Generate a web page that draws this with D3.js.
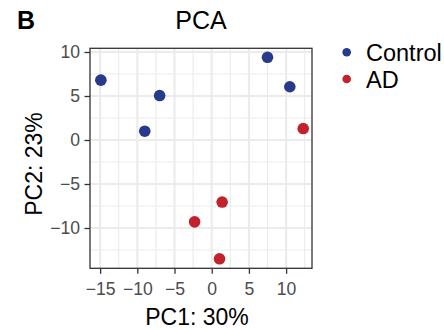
<!DOCTYPE html>
<html>
<head>
<meta charset="utf-8">
<script src="https://cdn.jsdelivr.net/npm/d3@7/dist/d3.min.js"></script>
<style>
  html, body { margin: 0; padding: 0; background: #fff; }
  svg { display: block; font-family: "Liberation Sans", Arial, sans-serif; }
</style>
</head>
<body>
<svg id="chart" width="444" height="330"></svg>
<script>
// ---- data ----
const groups = ["Control", "AD"];
const groupColors = ["#283A8C", "#C1222C"];
const controlPC1 = [-14.9, -7.0, -9.0, 7.5, 10.5];
const controlPC2 = [6.8, 5.05, 1.0, 9.4, 6.05];
const adPC1 = [12.3, -2.3, 1.4, 1.05];
const adPC2 = [1.3, -9.3, -7.05, -13.5];
const xTicks = [-15, -10, -5, 0, 5, 10];
const yTicks = [-10, -5, 0, 5, 10];
const xMinor = [-12.5, -7.5, -2.5, 2.5, 7.5, 12.5];
const yMinor = [-12.5, -7.5, -2.5, 2.5, 7.5];
const titleText = "PCA";
const panelLabel = "B";
const xTitle = "PC1: 30%";
const yTitle = "PC2: 23%";

const points = [];
controlPC1.forEach((v, i) => points.push({ g: 0, x: v, y: controlPC2[i] }));
adPC1.forEach((v, i) => points.push({ g: 1, x: v, y: adPC2[i] }));

// ---- layout ----
const svg = d3.select("#chart");
const L = 90, R = 312, T = 48.3, B = 268.3;
const x = d3.scaleLinear().domain([-16.36, 13.48]).range([L, R]);
const y = d3.scaleLinear().domain([-14.58, 10.42]).range([B, T]);

svg.append("rect").attr("x", L).attr("y", T).attr("width", R - L).attr("height", B - T).attr("fill", "#fff");

const grid = svg.append("g");
grid.selectAll(".xm").data(xMinor).enter().append("line")
  .attr("x1", d => x(d)).attr("x2", d => x(d)).attr("y1", T).attr("y2", B)
  .attr("stroke", "#EBEBEB").attr("stroke-width", 1.1);
grid.selectAll(".ym").data(yMinor).enter().append("line")
  .attr("y1", d => y(d)).attr("y2", d => y(d)).attr("x1", L).attr("x2", R)
  .attr("stroke", "#EBEBEB").attr("stroke-width", 1.1);
grid.selectAll(".xM").data(xTicks).enter().append("line")
  .attr("x1", d => x(d)).attr("x2", d => x(d)).attr("y1", T).attr("y2", B)
  .attr("stroke", "#EBEBEB").attr("stroke-width", 2.1);
grid.selectAll(".yM").data(yTicks).enter().append("line")
  .attr("y1", d => y(d)).attr("y2", d => y(d)).attr("x1", L).attr("x2", R)
  .attr("stroke", "#EBEBEB").attr("stroke-width", 2.1);

svg.append("clipPath").attr("id", "clip").append("rect")
  .attr("x", L).attr("y", T).attr("width", R - L).attr("height", B - T);
svg.append("g").attr("clip-path", "url(#clip)")
  .selectAll("circle").data(points).enter().append("circle")
  .attr("cx", d => x(d.x)).attr("cy", d => y(d.y)).attr("r", 5.8)
  .attr("fill", d => groupColors[d.g]);

svg.append("rect").attr("x", L).attr("y", T).attr("width", R - L).attr("height", B - T)
  .attr("fill", "none").attr("stroke", "#333333").attr("stroke-width", 1.3);

const xAxis = svg.append("g").attr("transform", `translate(0,${B})`)
  .call(d3.axisBottom(x).tickValues(xTicks).tickSize(5.5).tickPadding(4.5).tickFormat(d3.format("d")));
const yAxis = svg.append("g").attr("transform", `translate(${L},0)`)
  .call(d3.axisLeft(y).tickValues(yTicks).tickSize(5.5).tickPadding(4.5).tickFormat(d3.format("d")));
[xAxis, yAxis].forEach(a => {
  a.select(".domain").remove();
  a.selectAll(".tick line").attr("stroke", "#333333").attr("stroke-width", 1.3);
  a.selectAll(".tick text").attr("fill", "#4D4D4D").style("font-size", "17.6px")
    .style("font-family", "'Liberation Sans', Arial, sans-serif");
});
xAxis.selectAll(".tick text").attr("dy", "0.95em");

svg.append("text").attr("x", 17).attr("y", 29).text(panelLabel)
  .style("font-size", "25px").style("font-weight", "bold").attr("fill", "#000");
svg.append("text").attr("x", 201).attr("y", 29).attr("text-anchor", "middle").text(titleText)
  .style("font-size", "25px").attr("fill", "#000");
svg.append("text").attr("x", 197).attr("y", 325).attr("text-anchor", "middle").text(xTitle)
  .style("font-size", "23px").attr("fill", "#000");
svg.append("text").attr("transform", "translate(41.5,164) rotate(-90)").attr("text-anchor", "middle")
  .text(yTitle).style("font-size", "23px").attr("fill", "#000");

const lg = svg.append("g");
groups.forEach((g, i) => {
  const cy = 52.3 + i * 26.7;
  lg.append("circle").attr("cx", 346.7).attr("cy", cy).attr("r", 4.3).attr("fill", groupColors[i]);
  lg.append("text").attr("x", 366).attr("y", cy + 8.5).text(g)
    .style("font-size", "23.5px").attr("fill", "#000");
});
</script>
</body>
</html>
